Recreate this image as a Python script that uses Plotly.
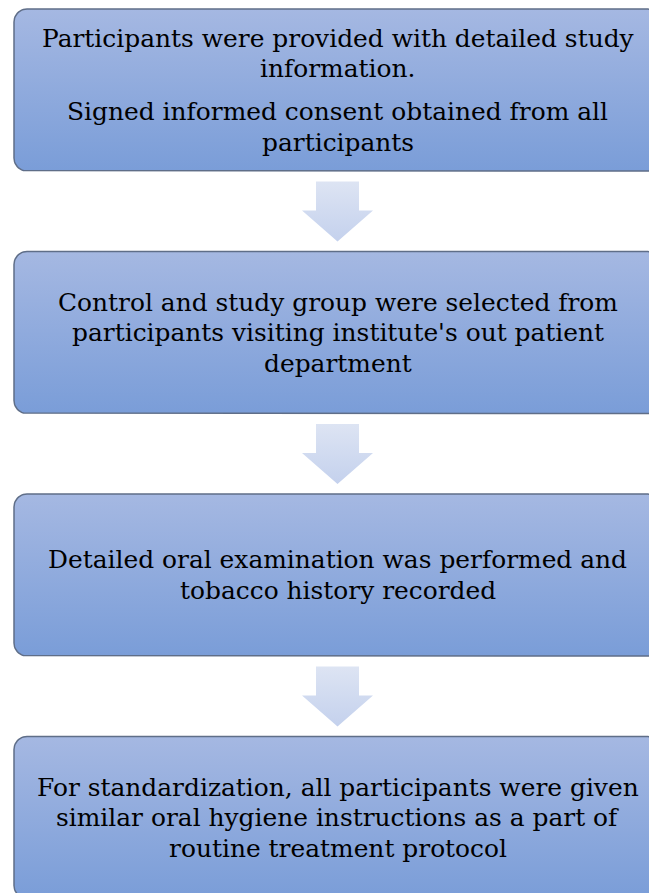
import numpy as np
import plotly.graph_objects as go

# ---- content ----
box_paragraphs = [
    [["Participants were provided with detailed study", "information."],
     ["Signed informed consent obtained from all", "participants"]],
    [["Control and study group were selected from",
      "participants visiting institute's out patient", "department"]],
    [["Detailed oral examination was performed and", "tobacco history recorded"]],
    [["For standardization, all participants were given",
      "similar oral hygiene instructions as a part of", "routine treatment protocol"]],
]

# ---- layout parameters (pixels) ----
W, H = 649, 893
box_left, box_right = 14, 661
box_top0, box_h, box_pitch = 9, 162, 242.5
radius = 13
line_gap, para_gap = 30.5, 43
font_size = 24.9
arrow_shaft = (316, 359)
arrow_head = (302, 373)
arrow_top_off, arrow_neck_off, arrow_tip_off = 10.5, 39.5, 70.5

box_top_color = "#a5b8e2"
box_bot_color = "#7a9dd8"
border_color = "#5f6e88"
arrow_top_color = "#dde4f3"
arrow_bot_color = "#c4d1ed"


def rounded_rect(x0, y0, x1, y1, r, n=12):
    xs, ys = [], []
    corners = [
        (x1 - r, y0 + r, -np.pi / 2, 0),
        (x1 - r, y1 - r, 0, np.pi / 2),
        (x0 + r, y1 - r, np.pi / 2, np.pi),
        (x0 + r, y0 + r, np.pi, 1.5 * np.pi),
    ]
    for cx, cy, a0, a1 in corners:
        t = np.linspace(a0, a1, n)
        xs.extend(cx + r * np.cos(t))
        ys.extend(cy + r * np.sin(t))
    xs.append(xs[0])
    ys.append(ys[0])
    return xs, ys


fig = go.Figure()
annotations = []

for i, paras in enumerate(box_paragraphs):
    top = box_top0 + i * box_pitch
    bot = top + box_h
    xs, ys = rounded_rect(box_left, top, box_right, bot, radius)
    fig.add_trace(go.Scatter(
        x=xs, y=ys, mode="lines", fill="toself",
        line=dict(color=border_color, width=1.5),
        fillgradient=dict(type="vertical",
                          colorscale=[[0, box_bot_color], [1, box_top_color]]),
        hoverinfo="skip", showlegend=False))

    # text lines
    offsets = []
    pos = 0.0
    for pi, para in enumerate(paras):
        if pi > 0:
            pos += para_gap - line_gap
        for li, line in enumerate(para):
            if pi > 0 or li > 0:
                pos += line_gap
            offsets.append((pos, line))
    total = offsets[-1][0]
    cy = (top + bot) / 2
    cx = (box_left + box_right) / 2
    for off, line in offsets:
        annotations.append(dict(
            x=cx, y=cy - total / 2 + off, xref="x", yref="y",
            text=line, showarrow=False, xanchor="center", yanchor="middle",
            font=dict(family="DejaVu Serif", size=font_size, color="#000000")))

    # arrow below box
    if i < len(box_paragraphs) - 1:
        a_top = bot + arrow_top_off
        a_neck = bot + arrow_neck_off
        a_tip = bot + arrow_tip_off
        ax = [arrow_shaft[0], arrow_shaft[1], arrow_shaft[1], arrow_head[1],
              (arrow_head[0] + arrow_head[1]) / 2, arrow_head[0], arrow_shaft[0],
              arrow_shaft[0]]
        ay = [a_top, a_top, a_neck, a_neck, a_tip, a_neck, a_neck, a_top]
        fig.add_trace(go.Scatter(
            x=ax, y=ay, mode="lines", fill="toself",
            line=dict(width=0, color="rgba(0,0,0,0)"),
            fillgradient=dict(type="vertical",
                              colorscale=[[0, arrow_bot_color], [1, arrow_top_color]]),
            hoverinfo="skip", showlegend=False))

fig.update_layout(
    width=W, height=H,
    margin=dict(l=0, r=0, t=0, b=0),
    paper_bgcolor="white", plot_bgcolor="white",
    xaxis=dict(range=[0, W], visible=False, fixedrange=True),
    yaxis=dict(range=[H, 0], visible=False, fixedrange=True),
    annotations=annotations,
    showlegend=False,
)

fig.write_html(
    "out.html",
    config={"displayModeBar": False},
    post_script="document.body.style.margin='0';document.body.style.overflow='hidden';",
)
